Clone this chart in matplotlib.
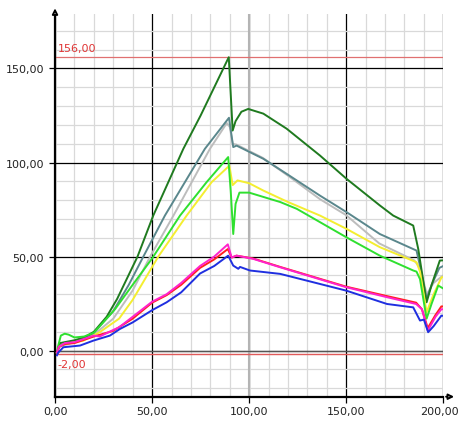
import numpy as np
import matplotlib
matplotlib.use("Agg")
import matplotlib.pyplot as plt
from matplotlib.ticker import MultipleLocator, FuncFormatter

# values (x, y per series)
dkgreen_x = [1, 1.5, 2.6, 5, 10, 15, 20, 26.6, 32, 42.5, 50.6, 66.1, 75, 89.5, 91.5, 93, 96, 99.5,
             107.3, 119.3, 136.5, 150.2, 167.3, 174.2, 184.5, 187.1, 191.4, 194, 198.2, 200]
dkgreen_y = [-1, 0, 4, 4.5, 5.5, 7, 10, 18, 27.5, 50, 71.8, 107.3, 125, 156, 117, 122, 127, 128.5,
             126, 118, 103.7, 91.3, 77.2, 71.8, 66.5, 54, 25.7, 35, 47.9, 48]

steel_x = [1, 2, 5, 10, 15, 20, 30, 38, 45.5, 56.6, 77.2, 89.6, 91.8, 93.5, 107.3, 119.3, 136.5,
           150.2, 167.3, 186.2, 188, 191.4, 194, 198, 200]
steel_y = [-1, 2, 3.5, 5, 6.5, 9.5, 21, 35, 50, 71.8, 107.3, 123.8, 108.2, 109, 102, 94, 82.4,
           73.6, 62, 53.2, 45, 27.5, 35, 44, 45]

silver_x = [1, 2, 5, 10, 20, 30, 40, 49, 61, 79.8, 88.5, 90, 91.5, 93.5, 107, 120, 136.5, 150,
            167, 185, 188, 191.5, 195, 200]
silver_y = [-1, 2, 3, 4.5, 8.5, 17, 32, 50, 71.8, 107.3, 121, 119, 110, 109.5, 102.5, 93, 80.5, 72,
            57, 48, 44, 30, 36, 40]

green_x = [1, 1.5, 3, 5, 7, 10, 15, 20, 30.9, 40, 50, 64.4, 78.1, 89.2, 90.5, 91.8, 93, 95, 100,
           116, 124.5, 150, 167.3, 184.5, 186.2, 188, 191.4, 194, 197.4, 200]
green_y = [-1, 2, 8, 9, 8.5, 7, 7.5, 9.5, 22, 35, 49, 71.8, 89.6, 102.9, 85, 62, 78, 84, 84,
           79, 75.4, 60.3, 50.5, 42.6, 42, 38, 17, 25, 34.6, 33]

yellow_x = [1, 2, 5, 14.6, 23, 33, 40, 53.2, 67.8, 80.7, 89.8, 91.5, 94, 100, 107.3, 120, 136.5,
            150.2, 167.3, 186.2, 188, 191.4, 195, 199.1, 200]
yellow_y = [-1, 2, 3.5, 5.3, 9.8, 17, 27, 50, 71.8, 89.6, 98.3, 88, 90.5, 89, 85.1, 79, 71.8,
            64.7, 55, 47, 42, 20.4, 30, 39, 39]

red_x = [1, 2, 5, 10, 20, 30, 40, 50, 57.5, 65, 74.7, 82, 89, 91, 93.5, 102, 116, 150, 171,
         186, 189, 192, 196, 199, 200]
red_y = [-1, 2, 3.5, 4, 7.5, 10.5, 17, 25.5, 29.5, 35, 44, 48.5, 54, 49.5, 50.5, 49, 44.5, 34, 29,
         25.5, 22, 12, 19, 23.5, 23.5]

pink_x = [1, 2, 5, 10, 20, 23, 30, 33, 40, 50, 57.5, 65, 74.7, 82, 89, 91, 93.5, 102, 116, 150,
          171, 186, 189, 192, 196, 199, 200]
pink_y = [-1, 2, 4, 4.5, 8, 7.5, 11, 12.4, 18, 26, 30, 36, 45, 50, 56.5, 49.5, 50.5, 48.8, 44.3,
          33.7, 28.4, 24.8, 22, 10.6, 18, 22, 22]

blue_x = [1, 1.7, 4.3, 12.9, 19.7, 28.3, 33.4, 40, 50, 57.5, 65, 74.7, 82, 89.2, 91.8, 94.4, 95.3,
          100.4, 116, 150, 171, 184.5, 188, 190, 192.2, 195, 199, 200]
blue_y = [-2.5, -1, 1.8, 2.7, 5.3, 8, 11.5, 15, 21.5, 25.7, 31, 41, 45, 50.5, 45.2, 43.5, 44.5,
          42.6, 40.8, 31.9, 24.8, 23, 16, 16.5, 9.8, 13, 18.6, 18.5]

upper_limit = 156.0
lower_limit = -2.0

series = [
    (silver_x, silver_y, "#bdbdbd"),
    (steel_x, steel_y, "#5a878c"),
    (dkgreen_x, dkgreen_y, "#1f7a1f"),
    (yellow_x, yellow_y, "#f4ee30"),
    (green_x, green_y, "#2fe02f"),
    (red_x, red_y, "#ff2020"),
    (pink_x, pink_y, "#ff22cc"),
    (blue_x, blue_y, "#1f2fe0"),
]


def comma(v):
    return f"{v:.2f}".replace(".", ",")


fig = plt.figure(figsize=(4.6, 4.27), dpi=100)
ax = fig.add_axes([0.1196, 0.0686, 0.8441, 0.8964])

ax.set_xlim(0, 200)
ax.set_ylim(-24.5, 179)

# grid
ax.xaxis.set_major_locator(MultipleLocator(50))
ax.yaxis.set_major_locator(MultipleLocator(50))
ax.xaxis.set_minor_locator(MultipleLocator(10))
ax.yaxis.set_minor_locator(MultipleLocator(10))
ax.grid(which="minor", color="#d9d9d9", lw=0.9)
ax.grid(which="major", color="black", lw=0.9)
ax.set_axisbelow(True)
ax.axvline(100, color="#b4b4b4", lw=1.5, zorder=1)

# last x label drawn by hand so it stays inside the picture
ax.xaxis.set_major_formatter(FuncFormatter(lambda v, p: "" if v >= 200 else comma(v)))
ax.yaxis.set_major_formatter(FuncFormatter(lambda v, p: comma(v)))
ax.tick_params(which="major", length=4, width=0.9, color="black", labelsize=8,
               labelcolor="#222222")
ax.tick_params(axis="y", pad=4)
ax.tick_params(axis="x", pad=3)
ax.tick_params(which="minor", length=0)
ax.annotate(comma(200), xy=(200, 0), xycoords=("data", "axes fraction"),
            xytext=(-3, -7), textcoords="offset points", ha="center", va="top",
            fontsize=8, color="#222222", annotation_clip=False)

for s in ["top", "right"]:
    ax.spines[s].set_visible(False)
ax.spines["left"].set_linewidth(1.6)
ax.spines["bottom"].set_linewidth(1.6)

# reference lines
ax.axhline(0, color="#555555", lw=0.9, zorder=2)
ax.axhline(upper_limit, color="#e07070", lw=0.9, zorder=2)
ax.axhline(lower_limit, color="#e05a5a", lw=1.0, zorder=2)
ax.text(1.5, upper_limit + 2.5, comma(upper_limit), color="#e03535",
        fontsize=8, va="bottom", ha="left")
ax.text(1.5, lower_limit - 2.5, comma(lower_limit), color="#e03535",
        fontsize=8, va="top", ha="left")

for xs, ys, c in series:
    ax.plot(xs, ys, color=c, lw=1.4, zorder=3)

# axis arrows
ax.annotate("", xy=(0, 1.022), xytext=(0, 0.99), xycoords="axes fraction",
            arrowprops=dict(arrowstyle="-|>", color="black", lw=1.4, fc="white",
                            mutation_scale=8), annotation_clip=False)
ax.annotate("", xy=(1.035, 0), xytext=(1.0, 0), xycoords="axes fraction",
            arrowprops=dict(arrowstyle="-|>", color="black", lw=1.4, fc="white",
                            mutation_scale=8), annotation_clip=False)

fig.savefig("out.png", dpi=100)
